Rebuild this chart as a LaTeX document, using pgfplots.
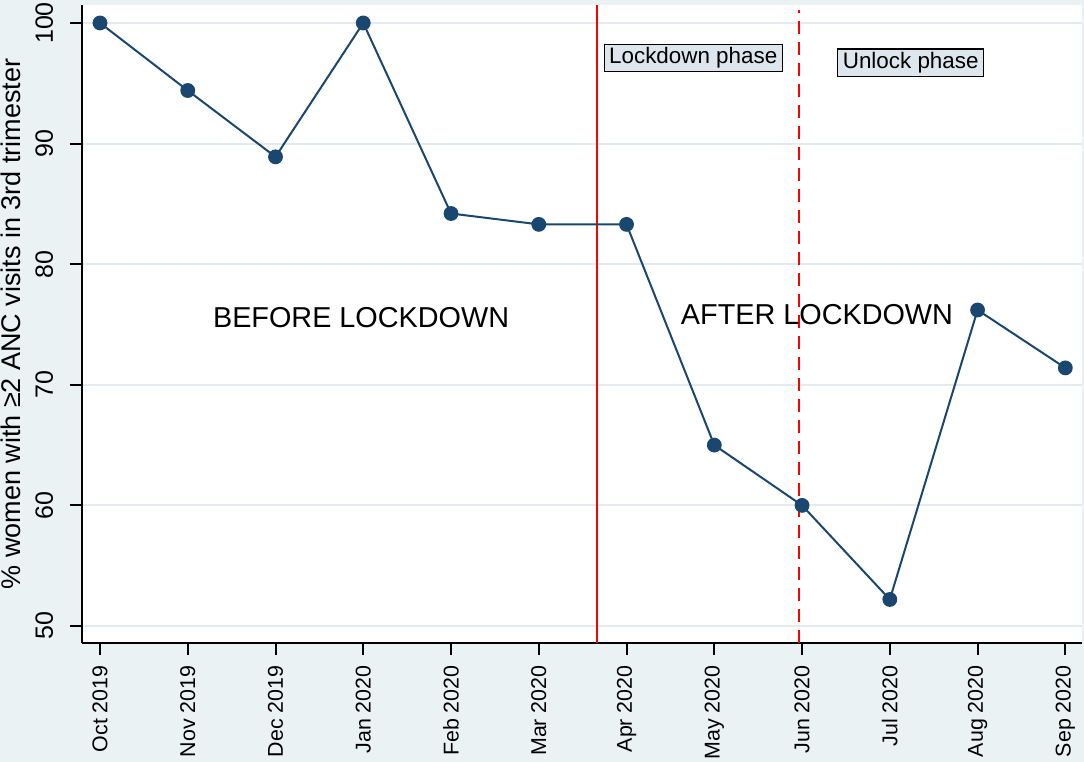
\documentclass[border=0pt]{standalone}
\usepackage{pgfplots}
\pgfplotsset{compat=1.18}
\usepackage{fontspec}
\setmainfont{Liberation Sans}
\definecolor{bg}{HTML}{EAF2F3}
\definecolor{gridc}{HTML}{E3EBEE}
\definecolor{navy}{HTML}{1A476F}
\definecolor{boxfill}{HTML}{DCE6EC}
\begin{document}
\begin{tikzpicture}
\fill[bg] (0,0) rectangle (542bp,381bp);
\begin{axis}[
  at={(41bp,59.5bp)}, anchor=south west,
  width=500bp, height=319bp, scale only axis,
  xmin=-0.205, xmax=11.19, ymin=48.59, ymax=101.49,
  axis x line=bottom, axis y line=left,
  axis line style={-, line width=1bp, black},
  axis background/.style={fill=white},
  xtick={0,...,11},
  xticklabels={Oct 2019,Nov 2019,Dec 2019,Jan 2020,Feb 2020,Mar 2020,Apr 2020,May 2020,Jun 2020,Jul 2020,Aug 2020,Sep 2020},
  ytick={50,60,...,100},
  /pgf/number format/assume math mode=true,
  tick align=outside, major tick length=6bp,
  tick style={line width=1bp, black},
  ymajorgrids, major grid style={gridc, line width=1bp},
  xticklabel style={yshift=-5bp, rotate=90, anchor=east, inner sep=0pt, font=\fontsize{10.7bp}{12bp}\selectfont},
  yticklabel style={xshift=-8.5bp, rotate=90, anchor=base, inner sep=0pt, font=\fontsize{12.5bp}{14bp}\selectfont},
  ylabel={\% women with ≥2 ANC visits in 3rd trimester},
  ylabel style={at={(axis description cs:-0.071,0.5)}, anchor=center, inner sep=0pt, font=\fontsize{13.5bp}{15bp}\selectfont},
  clip=false,
]
\addplot[red, line width=1bp, forget plot] coordinates {(5.66,48.59) (5.66,101.49)};
\addplot[red, line width=1bp, dash pattern=on 6.5bp off 4bp, forget plot] coordinates {(7.97,48.59) (7.97,101.1)};
\addplot[navy, line width=1bp, mark=*, mark size=3.2bp, mark options={fill=navy, solid}] coordinates {
(0,100) (1,94.4) (2,88.9) (3,100) (4,84.2) (5,83.3) (6,83.3) (7,65) (8,60) (9,52.2) (10,76.2) (11,71.4)};
\node[inner sep=0pt, font=\fontsize{14.4bp}{16bp}\selectfont] at (axis cs:2.975,75.54) {BEFORE LOCKDOWN};
\node[inner sep=0pt, font=\fontsize{14.4bp}{16bp}\selectfont] at (axis cs:8.17,75.79) {AFTER LOCKDOWN};
\node[draw=black, line width=0.6bp, fill=boxfill, inner xsep=2.5bp, inner ysep=1.5bp, text height=8.2bp, text depth=2.4bp, font=\fontsize{11.2bp}{13bp}\selectfont] at (axis cs:6.76,97.10) {Lockdown phase};
\node[draw=black, line width=0.6bp, fill=boxfill, inner xsep=2.5bp, inner ysep=1.5bp, text height=8.2bp, text depth=2.4bp, font=\fontsize{11.2bp}{13bp}\selectfont] at (axis cs:9.238,96.72) {Unlock phase};
\end{axis}
\pgfresetboundingbox
\useasboundingbox (0,0) rectangle (542bp,381bp);
\end{tikzpicture}
\end{document}
